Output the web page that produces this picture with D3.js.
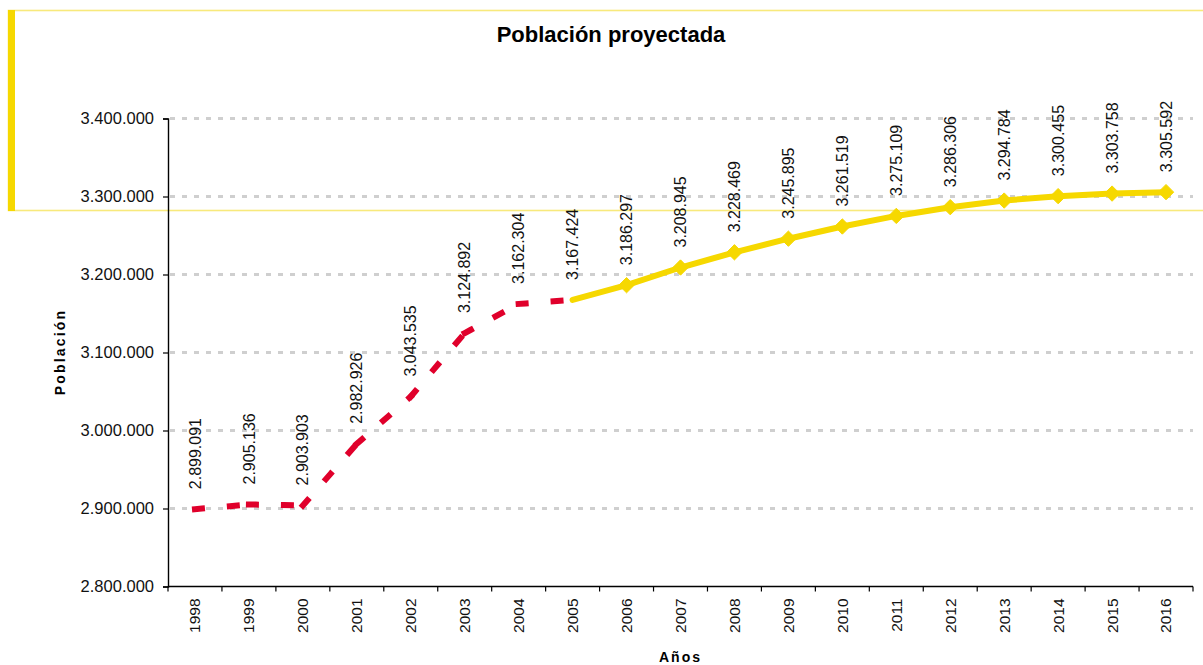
<!DOCTYPE html>
<html>
<head>
<meta charset="utf-8">
<script src="https://cdn.jsdelivr.net/npm/d3@7"></script>
<style>
  html, body { margin: 0; padding: 0; background: #fff; }
  svg { display: block; font-family: "Liberation Sans", Arial, sans-serif; }
</style>
</head>
<body>
<svg id="chart" width="1203" height="665"></svg>
<script>
// Population figures by year
const years = ["1998","1999","2000","2001","2002","2003","2004","2005","2006","2007",
               "2008","2009","2010","2011","2012","2013","2014","2015","2016"];
const population = [2899091, 2905136, 2903903, 2982926, 3043535, 3124892, 3162304, 3167424,
                    3186297, 3208945, 3228469, 3245895, 3261519, 3275109, 3286306, 3294784,
                    3300455, 3303758, 3305592];
// Recorded years drawn dashed, projected years drawn solid with markers
const recordedYears = ["1998","1999","2000","2001","2002","2003","2004","2005"];
const projectedYears = ["2005","2006","2007","2008","2009","2010","2011","2012","2013","2014","2015","2016"];
const markerYears = ["2006","2007","2008","2009","2010","2011","2012","2013","2014","2015","2016"];
const yTicks = [2800000, 2900000, 3000000, 3100000, 3200000, 3300000, 3400000];

const RED = "#E0002B";
const YELLOW = "#F6D800";

const svg = d3.select("#chart");
const margin = { left: 168, right: 10, top: 118.5, bottom: 78.5 };
const W = 1203, H = 665;
const x0 = margin.left, x1 = 1193;
const y0 = H - margin.bottom, y1 = margin.top;

const x = d3.scaleBand().domain(years).range([x0, x1]).padding(0);
const y = d3.scaleLinear().domain([2800000, 3400000]).range([y0, y1]);
const cx = yr => x(yr) + x.bandwidth() / 2;
const valueOf = yr => population[years.indexOf(yr)];

const fmt = d3.formatLocale({ decimal: ",", thousands: ".", grouping: [3], currency: ["", ""] }).format(",d");

// Decorative frame around the heading
svg.append("rect")
  .attr("x", 8.5).attr("y", 10.5).attr("width", W).attr("height", 200)
  .attr("fill", "none").attr("stroke", "#F8E97C").attr("stroke-width", 1.6);
svg.append("rect")
  .attr("x", 8).attr("y", 10).attr("width", 7).attr("height", 201)
  .attr("fill", YELLOW);

// Title
svg.append("text")
  .attr("x", 611).attr("y", 42)
  .attr("text-anchor", "middle")
  .attr("font-size", 22).attr("font-weight", "bold").attr("fill", "#000")
  .text("Población proyectada");

// Gridlines
svg.append("g").selectAll("line")
  .data(yTicks.filter(v => v > 2800000))
  .join("line")
  .attr("x1", x0 + 2).attr("x2", x1)
  .attr("y1", d => y(d)).attr("y2", d => y(d))
  .attr("stroke", "#cfcfcf").attr("stroke-width", 3)
  .attr("stroke-dasharray", "5,7");

// Y axis
const yAxis = svg.append("g")
  .attr("transform", `translate(${x0},0)`)
  .call(d3.axisLeft(y).tickValues(yTicks).tickSize(5).tickPadding(9).tickFormat(fmt));
yAxis.select(".domain").attr("stroke", "#000").attr("stroke-width", 1.4);
yAxis.selectAll(".tick line").attr("stroke", "#000").attr("stroke-width", 1.2);
yAxis.selectAll(".tick text")
  .attr("font-size", 16.5).attr("fill", "#111")
  .attr("font-family", "'Liberation Sans', Arial, sans-serif");

// X axis: ticks on category boundaries
const xAxisG = svg.append("g").attr("transform", `translate(0,${y0})`);
xAxisG.append("line")
  .attr("x1", x0).attr("x2", x1).attr("y1", 0).attr("y2", 0)
  .attr("stroke", "#000").attr("stroke-width", 1.4);
xAxisG.selectAll("line.tk")
  .data(years.concat(["end"]))
  .join("line").attr("class", "tk")
  .attr("x1", (d, i) => x0 + i * x.bandwidth())
  .attr("x2", (d, i) => x0 + i * x.bandwidth())
  .attr("y1", 0).attr("y2", 5)
  .attr("stroke", "#000").attr("stroke-width", 1.2);
xAxisG.selectAll("text")
  .data(years)
  .join("text")
  .attr("transform", d => `translate(${cx(d)},12) rotate(-90)`)
  .attr("dy", "0.35em")
  .attr("text-anchor", "end")
  .attr("font-size", 15.5).attr("fill", "#111")
  .text(d => d);

// Axis titles
svg.append("text")
  .attr("transform", `translate(60,352) rotate(-90)`)
  .attr("dy", "0.35em")
  .attr("text-anchor", "middle")
  .attr("font-size", 14).attr("font-weight", "bold").attr("letter-spacing", 2.2)
  .text("Población");
svg.append("text")
  .attr("x", (x0 + x1) / 2).attr("y", 662)
  .attr("text-anchor", "middle")
  .attr("font-size", 14).attr("font-weight", "bold").attr("letter-spacing", 2)
  .text("Años");

const line = d3.line().x(d => cx(d)).y(d => y(valueOf(d)));

// Projected series (solid yellow with diamond markers)
svg.append("path")
  .datum(projectedYears)
  .attr("d", line)
  .attr("fill", "none").attr("stroke", YELLOW)
  .attr("stroke-width", 6).attr("stroke-linejoin", "round").attr("stroke-linecap", "round");

svg.append("g").selectAll("path")
  .data(markerYears)
  .join("path")
  .attr("transform", d => `translate(${cx(d)},${y(valueOf(d))})`)
  .attr("d", d3.symbol(d3.symbolDiamond2, 150)())
  .attr("fill", YELLOW).attr("stroke", YELLOW).attr("stroke-width", 1);

// Recorded series: dashed red, dash pattern restarting on each segment
const segs = d3.pairs(recordedYears);
svg.append("g").selectAll("path")
  .data(segs)
  .join("path")
  .attr("d", d => line(d))
  .attr("fill", "none").attr("stroke", RED)
  .attr("stroke-width", 6).attr("stroke-linecap", "square")
  .attr("stroke-dasharray", "7,28");

// Value labels above each point
svg.append("g").selectAll("text")
  .data(years)
  .join("text")
  .attr("transform", d => `translate(${cx(d)},${y(valueOf(d)) - 20}) rotate(-90)`)
  .attr("dy", "0.35em")
  .attr("text-anchor", "start")
  .attr("font-size", 16).attr("fill", "#111")
  .text(d => fmt(valueOf(d)));
</script>
</body>
</html>
